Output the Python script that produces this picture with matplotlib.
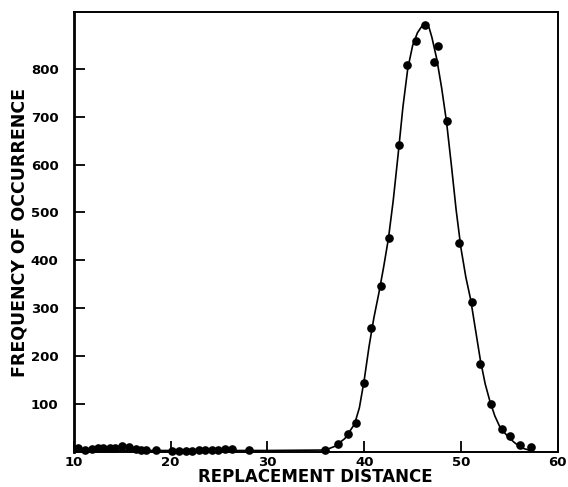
import matplotlib
matplotlib.use("Agg")
import matplotlib.pyplot as plt

# Observed points (replacement distance, frequency)
dist = [10.4, 11.2, 11.9, 12.5, 13.0, 13.7, 14.3, 15.0, 15.7, 16.4, 16.9, 17.5, 18.5,
        20.1, 20.9, 21.6, 22.2, 22.9, 23.6, 24.3, 24.9, 25.6, 26.3, 28.1,
        36.0, 37.3, 38.3, 39.2, 39.95, 40.7, 41.7, 42.6, 43.6, 44.4, 45.4, 46.3,
        47.2, 47.6, 48.6, 49.75, 51.1, 52.0, 53.1, 54.2, 55.1, 56.1, 57.2]
freq = [8, 4, 7, 8, 8, 8, 9, 13, 10, 7, 5, 4, 3,
        2, 2, 2, 2, 3, 3, 4, 5, 6, 6, 3,
        5, 16, 37, 60, 143, 259, 347, 447, 640, 808, 857, 891,
        813, 848, 690, 436, 313, 183, 101, 48, 34, 15, 11]

# Fitted curve
curve_x = [10, 20, 30, 36, 37, 38, 39, 39.5, 40, 40.5, 41, 41.5, 42, 42.5, 43, 43.5,
           44, 44.5, 45, 45.5, 46, 46.3, 46.7, 47, 47.5, 48, 48.5, 49, 49.5, 50,
           50.5, 51, 51.5, 52, 52.5, 53, 53.5, 54, 54.5, 55, 55.5, 56, 56.5, 57]
curve_y = [3, 3, 3, 4, 12, 28, 58, 92, 150, 220, 280, 330, 385, 445, 525, 620,
           720, 800, 848, 875, 890, 893, 886, 865, 820, 760, 690, 600, 505, 425,
           365, 318, 255, 192, 142, 105, 75, 53, 40, 29, 20, 12, 7, 4]

xticks = [10, 20, 30, 40, 50, 60]
yticks = [100, 200, 300, 400, 500, 600, 700, 800]

plt.rcParams['font.family'] = ['DejaVu Sans']
fig = plt.figure(figsize=(5.68, 4.87), dpi=100)
ax = fig.add_axes([0.130, 0.072, 0.852, 0.903])

ax.plot(curve_x, curve_y, color='black', lw=1.2, solid_joinstyle='round')
ax.plot(dist, freq, 'o', color='black', ms=5.2, clip_on=False)

ax.set_xlim(10, 60)
ax.set_ylim(0, 918)
ax.set_xticks(xticks)
ax.set_xticklabels([str(t) for t in xticks], fontsize=9.5, fontweight='bold')
ax.set_yticks(yticks)
ax.set_yticklabels([str(t) for t in yticks], fontsize=9.5, fontweight='bold')
ax.tick_params(direction='in', length=8, width=1.3)
ax.tick_params(axis='x', pad=3)
ax.tick_params(axis='y', pad=11)

ax.spines['left'].set_linewidth(2.0)
for side in ['top', 'right', 'bottom']:
    ax.spines[side].set_linewidth(1.4)

ax.set_xlabel('REPLACEMENT DISTANCE', fontsize=12, fontweight='bold', labelpad=-1)
ax.set_ylabel('FREQUENCY OF OCCURRENCE', fontsize=12.5, fontweight='bold', labelpad=2)

fig.savefig('out.png', dpi=100)
